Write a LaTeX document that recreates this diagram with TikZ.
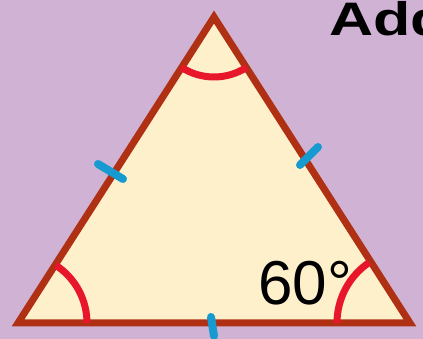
\documentclass[tikz,border=0pt]{standalone}
\usepackage{fontspec}
\setmainfont{Liberation Sans}
\definecolor{lilac}{RGB}{208,178,213}
\definecolor{cream}{RGB}{255,240,204}
\definecolor{rust}{RGB}{176,48,20}
\definecolor{angred}{RGB}{232,22,43}
\definecolor{tickblue}{RGB}{22,154,208}
\tikzset{
  side/.style={draw=rust, line width=7pt, fill=cream, line join=miter},
  anglemark/.style={draw=angred, line width=7pt},
  tickmark/.style={draw=tickblue, line width=8pt, line cap=round}
}
\begin{document}
\begin{tikzpicture}[x=1pt,y=1pt]
\fill[lilac] (0,0) rectangle (423,339);
\useasboundingbox (0,0) rectangle (423,339);

\coordinate (a) at (214,322);
\coordinate (b) at (18,16);
\coordinate (c) at (410,16);
\draw[side] (a) -- (b) -- (c) -- cycle;

\draw[anglemark] ([shift={(237:60)}]a) arc (237:303:60);
\draw[anglemark] ([shift={(0:69)}]b) arc (0:57:69);
\draw[anglemark] ([shift={(180:73)}]c) arc (180:124:73);

\draw[tickmark] (98,175) -- (123,160);
\draw[tickmark] (300,174) -- (318,192);
\draw[tickmark] (211,22) -- (214,3);

\node[anchor=base west, inner sep=0pt, xscale=1.3, font=\fontsize{47}{50}\selectfont\bfseries] (title) at (329,303) {Add};
\node[anchor=base west, inner sep=0pt, font=\fontsize{62}{64}\selectfont] (sixty) at (258,34) {60°};
\end{tikzpicture}
\end{document}
